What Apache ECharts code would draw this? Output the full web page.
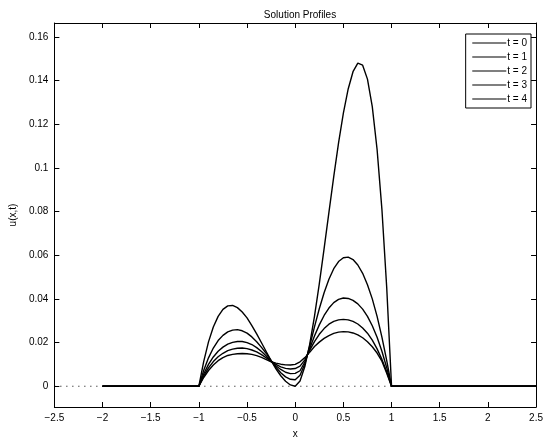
<!DOCTYPE html>
<html>
<head>
<meta charset="utf-8">
<script src="https://cdn.jsdelivr.net/npm/echarts@6/dist/echarts.min.js"></script>
<style>html,body{margin:0;padding:0;background:#fff;}#c{width:546px;height:444px;}</style>
</head>
<body>
<div id="c"></div>
<script>
// x positions inside [-1, 1]
const xs = [-1,-0.95,-0.9,-0.85,-0.8,-0.75,-0.7,-0.65,-0.6,-0.55,-0.5,-0.45,-0.4,-0.35,-0.3,-0.25,-0.2,-0.15,-0.1,-0.05,
  0,0.05,0.1,0.15,0.2,0.25,0.3,0.35,0.4,0.45,0.5,0.55,0.6,0.65,0.7,0.75,0.8,0.85,0.9,0.95,1];
const xStart = -2;
const xEnd = 2.5;
const seriesNames = ['t = 0','t = 1','t = 2','t = 3','t = 4'];
const t0 = [0,0.0113,0.0203,0.0271,0.0320,0.0352,0.0368,0.0370,0.0360,0.0340,0.0313,0.0278,0.0240,0.0199,0.0158,0.0117,0.0080,0.0048,0.0023,0.0006,
  0,0.0024,0.0090,0.0191,0.0320,0.0469,0.0630,0.0796,0.0960,0.1114,0.1250,0.1361,0.1440,0.1479,0.1470,0.1406,0.1280,0.1084,0.0810,0.0451,0];
const t1 = [0,0.0072,0.0130,0.0175,0.0209,0.0233,0.0249,0.0257,0.0259,0.0254,0.0243,0.0226,0.0204,0.0178,0.0150,0.0117,0.0087,0.0062,0.0043,0.0032,
  0.0030,0.0050,0.0102,0.0183,0.0272,0.0355,0.0428,0.0490,0.0538,0.0571,0.0588,0.0591,0.0580,0.0555,0.0517,0.0465,0.0400,0.0320,0.0225,0.0117,0];
const t2 = [0,0.0056,0.0100,0.0134,0.0160,0.0179,0.0193,0.0201,0.0205,0.0205,0.0200,0.0191,0.0177,0.0159,0.0138,0.0115,0.0094,0.0077,0.0064,0.0058,
  0.0059,0.0071,0.0111,0.0172,0.0230,0.0281,0.0324,0.0358,0.0383,0.0398,0.0404,0.0402,0.0393,0.0377,0.0353,0.0320,0.0277,0.0224,0.0160,0.0085,0];
const t3 = [0,0.0047,0.0084,0.0113,0.0135,0.0151,0.0163,0.0170,0.0174,0.0175,0.0172,0.0166,0.0157,0.0145,0.0130,0.0114,0.0100,0.0089,0.0082,0.0079,
  0.0081,0.0092,0.0121,0.0164,0.0204,0.0238,0.0264,0.0284,0.0297,0.0304,0.0306,0.0304,0.0297,0.0285,0.0267,0.0243,0.0211,0.0171,0.0123,0.0066,0];
const t4 = [0,0.0040,0.0072,0.0097,0.0117,0.0131,0.0141,0.0146,0.0149,0.0150,0.0149,0.0146,0.0140,0.0132,0.0122,0.0112,0.0106,0.0101,0.0098,0.0097,
  0.0100,0.0112,0.0131,0.0155,0.0182,0.0202,0.0219,0.0232,0.0242,0.0248,0.0250,0.0249,0.0244,0.0235,0.0222,0.0204,0.0181,0.0152,0.0115,0.0060,0];
const profiles = [t0, t1, t2, t3, t4];
const xTicks = [-2.5,-2,-1.5,-1,-0.5,0,0.5,1,1.5,2,2.5];
const yTicks = [0,0.02,0.04,0.06,0.08,0.1,0.12,0.14,0.16];
const yMin = -0.0095, yMax = 0.1663;

function toPoints(ys){
  const pts = [[xStart, 0]];
  xs.forEach((x,i)=>pts.push([x, ys[i]]));
  pts.push([xEnd, 0]);
  return pts;
}
const FONT = 'Liberation Sans, Arial, Helvetica, sans-serif';
const fmtX = v => String(+v.toFixed(2)).replace('-', '\u2212');
const fmtY = v => {
  const r = +v.toFixed(4);
  return yTicks.some(t => Math.abs(t - r) < 1e-6) ? String(+r.toFixed(2)) : '';
};
const tickStyle = {show:true, inside:true, length:5, lineStyle:{color:'#000', width:1}};
const lineAxis = {show:true, onZero:false, lineStyle:{color:'#000', width:1}};

const chart = echarts.init(document.getElementById('c'), null, {renderer:'canvas'});
const series = profiles.map((p,i)=>({
  name: seriesNames[i], type:'line', data: toPoints(p), symbol:'none', showSymbol:false,
  lineStyle:{color:'#000', width:1.4}, itemStyle:{color:'#000'}, z:3, animation:false
}));
series.unshift({
  name:'zero', type:'line', data:[[xTicks[0],0],[xTicks[xTicks.length-1],0]], symbol:'none',
  lineStyle:{color:'#000', width:1, type:[1,5]}, z:2, animation:false, silent:true
});
chart.setOption({
  animation:false,
  backgroundColor:'#fff',
  title:{text:'Solution Profiles', left:295, top:5, textAlign:'center',
    textStyle:{fontFamily:FONT, fontSize:10, fontWeight:'normal', color:'#000'}},
  grid:{left:51, right:6, top:23, bottom:31, show:false},
  legend:{data:seriesNames, orient:'vertical', right:15, top:34, backgroundColor:'#fff',
    borderColor:'#000', borderWidth:1, borderRadius:0, padding:[4,4,4,6], itemGap:4,
    itemWidth:34, itemHeight:10, itemStyle:{opacity:0, borderWidth:0},
    lineStyle:{width:1.2, color:'#000'},
    textStyle:{fontFamily:FONT, fontSize:10, color:'#000', padding:[0,0,0,-4]}},
  xAxis:[
    {type:'value', min:xTicks[0], max:xTicks[xTicks.length-1], interval:0.5, position:'bottom',
     axisLine:lineAxis, axisTick:tickStyle, splitLine:{show:false},
     axisLabel:{formatter:fmtX, fontFamily:FONT, fontSize:10, color:'#000', margin:6},
     name:'x', nameLocation:'middle', nameGap:22, nameTextStyle:{fontFamily:FONT, fontSize:10, color:'#000'}},
    {type:'value', min:xTicks[0], max:xTicks[xTicks.length-1], interval:0.5, position:'top',
     axisLine:lineAxis, axisTick:tickStyle, splitLine:{show:false}, axisLabel:{show:false}}
  ],
  yAxis:[
    {type:'value', min:yMin, max:yMax, splitNumber:8, position:'left',
     axisLine:lineAxis, axisTick:tickStyle, splitLine:{show:false},
     axisLabel:{formatter:fmtY, fontFamily:FONT, fontSize:10, color:'#000', margin:6, showMinLabel:false, showMaxLabel:false},
     name:'u(x,t)', nameLocation:'middle', nameGap:32, nameRotate:90, nameTextStyle:{fontFamily:FONT, fontSize:10, color:'#000'}},
    {type:'value', min:yMin, max:yMax, splitNumber:8, position:'right',
     axisLine:lineAxis, axisTick:tickStyle, splitLine:{show:false}, axisLabel:{show:false}}
  ],
  series: series
});
</script>
</body>
</html>
